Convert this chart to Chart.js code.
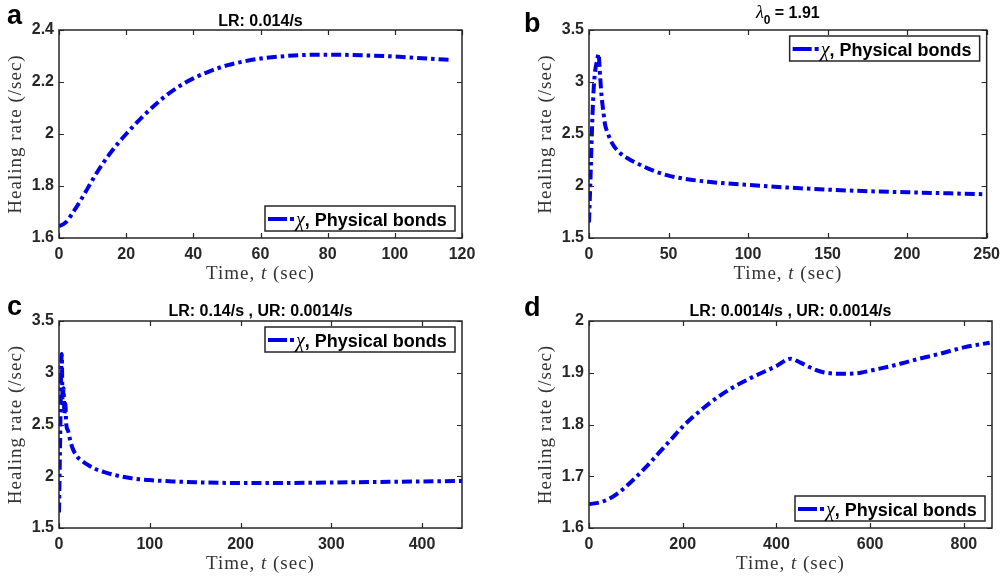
<!DOCTYPE html>
<html><head><meta charset="utf-8">
<script src="https://cdn.jsdelivr.net/npm/chart.js@4"></script>
<style>
body{margin:0;background:#fff;width:1007px;height:576px;overflow:hidden;position:relative}
.p{position:absolute}
canvas{display:block}
</style></head><body>
<div class="p" style="left:0;top:0"><canvas id="ca" width="503" height="288"></canvas></div>
<div class="p" style="left:503px;top:0"><canvas id="cb" width="504" height="288"></canvas></div>
<div class="p" style="left:0;top:288px"><canvas id="cc" width="503" height="288"></canvas></div>
<div class="p" style="left:503px;top:288px"><canvas id="cd" width="504" height="288"></canvas></div>
<script>
// ---- data ----
const aTime = [0, 2, 5, 7.5, 10, 12.5, 15, 17.5, 20, 25, 30, 35, 40, 45, 50, 55, 60, 70, 80, 90, 100, 110, 117];
const aRate = [1.645, 1.66, 1.715, 1.768, 1.824, 1.876, 1.922, 1.963, 2.0, 2.068, 2.128, 2.177, 2.214, 2.242, 2.264, 2.279, 2.29, 2.302, 2.305, 2.303, 2.298, 2.29, 2.285];
const aXTicks = [0, 20, 40, 60, 80, 100, 120];
const aYTicks = [1.6, 1.8, 2, 2.2, 2.4];
const aXRange = [0, 120];
const aYRange = [1.6, 2.4];

const bTime = [0, 1, 2, 3, 4, 5, 6, 7, 8, 9, 10, 12, 15, 20, 25, 30, 40, 50, 60, 75, 100, 125, 150, 175, 200, 225, 250];
const bRate = [1.65, 2.1, 2.6, 2.95, 3.12, 3.2, 3.27, 3.05, 2.85, 2.72, 2.6, 2.5, 2.4, 2.31, 2.26, 2.22, 2.15, 2.1, 2.07, 2.04, 2.01, 1.985, 1.965, 1.95, 1.94, 1.93, 1.92];
const bXTicks = [0, 50, 100, 150, 200, 250];
const bYTicks = [1.5, 2, 2.5, 3, 3.5];
const bXRange = [0, 250];
const bYRange = [1.5, 3.5];

const cTime = [0, 1, 2, 3, 4, 5, 6, 7, 8, 10, 12, 15, 20, 25, 30, 40, 50, 60, 80, 100, 125, 150, 200, 250, 300, 350, 400, 444];
const cRate = [1.65, 2.2, 2.8, 3.18, 2.7, 2.85, 2.6, 2.7, 2.5, 2.44, 2.36, 2.27, 2.19, 2.15, 2.12, 2.07, 2.04, 2.015, 1.98, 1.963, 1.95, 1.942, 1.935, 1.935, 1.94, 1.945, 1.95, 1.955];
const cXTicks = [0, 100, 200, 300, 400];
const cYTicks = [1.5, 2, 2.5, 3, 3.5];
const cXRange = [0, 444];
const cYRange = [1.5, 3.5];

const dTime = [0, 25, 50, 75, 100, 125, 150, 175, 200, 250, 300, 350, 400, 430, 450, 480, 500, 540, 580, 600, 650, 700, 750, 800, 855];
const dRate = [1.646, 1.65, 1.66, 1.677, 1.698, 1.721, 1.746, 1.771, 1.796, 1.836, 1.868, 1.892, 1.913, 1.927, 1.92, 1.907, 1.901, 1.898, 1.9, 1.904, 1.914, 1.926, 1.937, 1.949, 1.958];
const dXTicks = [0, 200, 400, 600, 800];
const dYTicks = [1.6, 1.7, 1.8, 1.9, 2];
const dXRange = [0, 860];
const dYRange = [1.6, 2.0];

const seriesLabel = 'χ, Physical bonds';

// ---- styling ----
const BLUE = '#0000e6';
const AXC = '#262626';
const SANS = '"Liberation Sans", Arial, sans-serif';
const SERIF = '"Liberation Serif", "Times New Roman", serif';

function drawRuns(ctx, runs, x, y, align) {
  let w = 0;
  runs.forEach(r => { ctx.font = r.font; ctx.letterSpacing = r.ls || '0px'; r.w = ctx.measureText(r.t).width; w += r.w; });
  let cx = align === 'center' ? x - w / 2 : x;
  runs.forEach(r => {
    ctx.font = r.font; ctx.letterSpacing = r.ls || '0px';
    ctx.fillStyle = r.color || '#000';
    ctx.fillText(r.t, cx, y + (r.dy || 0));
    cx += r.w;
  });
  ctx.letterSpacing = '0px';
}

const decor = {
  id: 'decor',
  afterDraw(chart, args, o) {
    const ctx = chart.ctx, ca = chart.chartArea;
    const xs = chart.scales.x, ys = chart.scales.y;
    ctx.save();
    ctx.textAlign = 'left';
    ctx.textBaseline = 'alphabetic';
    // box
    ctx.strokeStyle = AXC; ctx.lineWidth = 1.5;
    ctx.strokeRect(ca.left, ca.top, ca.right - ca.left, ca.bottom - ca.top);
    // inner ticks
    ctx.beginPath();
    xs.ticks.forEach(t => {
      const px = Math.round(xs.getPixelForValue(t.value)) + 0.5;
      ctx.moveTo(px, ca.bottom); ctx.lineTo(px, ca.bottom - 5);
      ctx.moveTo(px, ca.top); ctx.lineTo(px, ca.top + 5);
    });
    ys.ticks.forEach(t => {
      const py = Math.round(ys.getPixelForValue(t.value)) + 0.5;
      ctx.moveTo(ca.left, py); ctx.lineTo(ca.left + 5, py);
      ctx.moveTo(ca.right, py); ctx.lineTo(ca.right - 5, py);
    });
    ctx.lineWidth = 1.2;
    ctx.stroke();
    // panel letter
    ctx.fillStyle = '#000';
    ctx.font = 'bold 27px ' + SANS;
    ctx.fillText(o.letter, o.letterPos[0], o.letterPos[1]);
    // title
    drawRuns(ctx, o.title, (ca.left + ca.right) / 2, ca.top - o.titleOff, 'center');
    // x title
    const tf = '19px ' + SERIF, tfi = 'italic 19px ' + SERIF, tc = '#333333';
    drawRuns(ctx, [
      { t: 'Time, ', font: tf, ls: '1px', color: tc },
      { t: 't', font: tfi, ls: '1px', color: tc },
      { t: ' (sec)', font: tf, ls: '1px', color: tc }
    ], (ca.left + ca.right) / 2, ca.bottom + 41, 'center');
    // y title
    ctx.save();
    ctx.translate(ca.left - 38, (ca.top + ca.bottom) / 2);
    ctx.rotate(-Math.PI / 2);
    drawRuns(ctx, [{ t: 'Healing rate (/sec)', font: tf, ls: '1px', color: tc }], 0, 0, 'center');
    ctx.restore();
    // legend
    const W = 190, H = 25;
    const x1 = ca.right - 7, x0 = x1 - W;
    const y0 = o.legendTop ? ca.top + 6 : ca.bottom - 7 - H;
    ctx.fillStyle = '#fff';
    ctx.fillRect(x0, y0, W, H);
    ctx.strokeStyle = AXC; ctx.lineWidth = 1.5;
    ctx.strokeRect(x0, y0, W, H);
    ctx.strokeStyle = BLUE; ctx.lineWidth = 4;
    ctx.beginPath();
    ctx.moveTo(x0 + 3, y0 + 13); ctx.lineTo(x0 + 22, y0 + 13);
    ctx.moveTo(x0 + 25, y0 + 13); ctx.lineTo(x0 + 29, y0 + 13);
    ctx.stroke();
    const parts = seriesLabel.split(',');
    drawRuns(ctx, [
      { t: parts[0], font: 'italic 20px ' + SERIF },
      { t: ',' + parts[1], font: 'bold 18px ' + SANS }
    ], x0 + 31, y0 + 20, 'left');
    ctx.restore();
  }
};

function make(id, time, rate, xr, yr, xt, yt, lay, deco) {
  const pts = time.map((t, i) => ({ x: t, y: rate[i] }));
  const tickFont = { family: SANS, size: 16, weight: 'bold' };
  new Chart(document.getElementById(id), {
    type: 'line',
    data: { datasets: [{
      label: seriesLabel, data: pts, borderColor: BLUE, borderWidth: 4,
      borderDash: [10, 4, 3.5, 4], pointRadius: 0, fill: false,
      cubicInterpolationMode: 'monotone'
    }] },
    options: {
      responsive: false, animation: false, devicePixelRatio: 1, events: [],
      layout: { padding: { top: lay.top, right: lay.right, left: 0, bottom: 0 } },
      plugins: { legend: { display: false }, tooltip: { enabled: false }, title: { display: false }, decor: deco },
      scales: {
        x: {
          type: 'linear', min: xr[0], max: xr[1],
          afterBuildTicks: s => { s.ticks = xt.map(v => ({ value: v })); },
          afterFit: s => { s.height = lay.xh; },
          ticks: { callback: v => String(v), font: tickFont, color: AXC, padding: 7, maxRotation: 0, autoSkip: false },
          grid: { display: false, drawTicks: false }, border: { display: false }
        },
        y: {
          type: 'linear', min: yr[0], max: yr[1],
          afterBuildTicks: s => { s.ticks = yt.map(v => ({ value: v })); },
          afterFit: s => { s.width = lay.yw; },
          ticks: { callback: v => String(v), font: tickFont, color: AXC, padding: 5, autoSkip: false },
          grid: { display: false, drawTicks: false }, border: { display: false }
        }
      }
    },
    plugins: [decor]
  });
}

const titleFont = 'bold 16px ' + SANS;
make('ca', aTime, aRate, aXRange, aYRange, aXTicks, aYTicks,
  { top: 30, right: 41, xh: 50, yw: 59 },
  { letter: 'a', letterPos: [7, 24], title: [{ t: 'LR: 0.014/s', font: titleFont }], titleOff: 4, legendTop: false });
make('cb', bTime, bRate, bXRange, bYRange, bXTicks, bYTicks,
  { top: 30, right: 15, xh: 50, yw: 86 },
  { letter: 'b', letterPos: [21, 32], title: [
      { t: 'λ', font: 'italic 18px ' + SERIF },
      { t: '0', font: 'bold 12px ' + SANS, dy: 6 },
      { t: ' = 1.91', font: titleFont }], titleOff: 12, legendTop: true });
make('cc', cTime, cRate, cXRange, cYRange, cXTicks, cYTicks,
  { top: 33, right: 41, xh: 48, yw: 59 },
  { letter: 'c', letterPos: [7, 27], title: [{ t: 'LR: 0.14/s , UR: 0.0014/s', font: titleFont }], titleOff: 5, legendTop: true });
make('cd', dTime, dRate, dXRange, dYRange, dXTicks, dYTicks,
  { top: 33, right: 15, xh: 48, yw: 86 },
  { letter: 'd', letterPos: [21, 28], title: [{ t: 'LR: 0.0014/s , UR: 0.0014/s', font: titleFont }], titleOff: 5, legendTop: false });
</script>
</body></html>
